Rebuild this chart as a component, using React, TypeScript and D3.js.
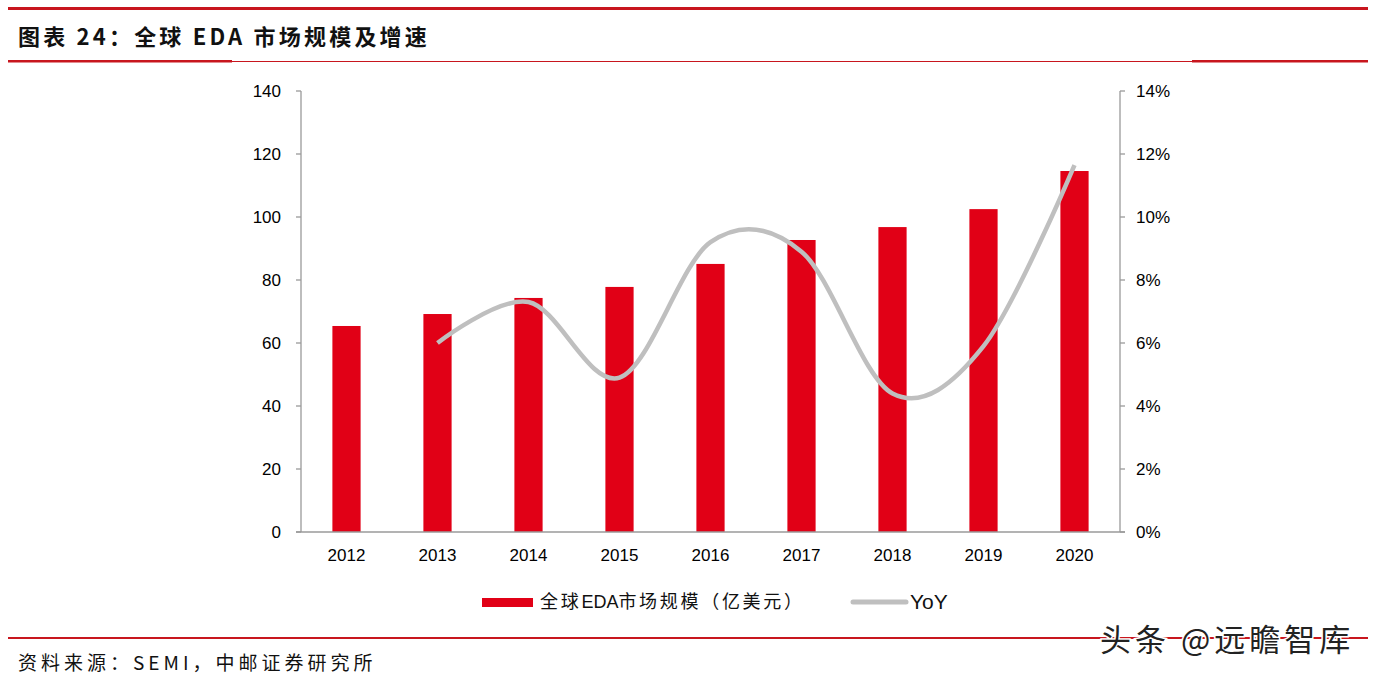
import React from "react";
import * as d3 from "d3";

const years = ["2012", "2013", "2014", "2015", "2016", "2017", "2018", "2019", "2020"];
const marketSize = [65.4, 69.2, 74.3, 77.8, 85.1, 92.7, 96.8, 102.5, 114.6];
const yoyYears = ["2013", "2014", "2015", "2016", "2017", "2018", "2019", "2020"];
const yoyValues = [0.060, 0.073, 0.049, 0.092, 0.089, 0.044, 0.059, 0.1165];
const leftTicks = [0, 20, 40, 60, 80, 100, 120, 140];
const rightTicks = [0, 0.02, 0.04, 0.06, 0.08, 0.1, 0.12, 0.14];

const W = 1373, H = 678;
const left = 301, right = 1120, top = 91, bottom = 532;
const RED = "#e10016";
const AXIS = "#9a9a9a";
const FONT = "'Liberation Sans', Arial, sans-serif";
const CJK = "'Noto Sans CJK SC', sans-serif";

export default function App() {
  const x = d3.scaleBand<string>().domain(years).range([left, right]).paddingInner(0.69).paddingOuter(0.345);
  const yL = d3.scaleLinear().domain([0, 140]).range([bottom, top]);
  const yR = d3.scaleLinear().domain([0, 0.14]).range([bottom, top]);
  const cx = (yr: string) => (x(yr) as number) + x.bandwidth() / 2;
  const line = d3
    .line<number>()
    .x((_, i) => cx(yoyYears[i]))
    .y((d) => yR(d))
    .curve(d3.curveCardinal.tension(0));

  return (
    <svg width={W} height={H} style={{ position: "absolute", left: 0, top: 0, background: "#fff" }}>
      {/* header lines */}
      <rect x={8} y={7} width={1360} height={3} fill="#c8161e" />
      <rect x={8} y={61} width={1360} height={1} fill="#c8161e" />
      <rect x={8} y={60} width={224} height={2.5} fill="#c8161e" />
      <rect x={1192} y={60} width={176} height={2.5} fill="#c8161e" />
      <text x={18} y={45} fontFamily={CJK} fontWeight={700} fontSize={22} letterSpacing={3.2} fill="#111">
        图表 24：全球 EDA 市场规模及增速
      </text>

      {/* bars */}
      {years.map((yr, i) => (
        <rect key={yr} x={x(yr)} y={yL(marketSize[i])} width={x.bandwidth()} height={bottom - yL(marketSize[i])} fill={RED} />
      ))}

      {/* yoy line */}
      <path d={line(yoyValues) || ""} fill="none" stroke="#bfbfbf" strokeWidth={4.5} />

      {/* axes */}
      <line x1={left} x2={left} y1={top} y2={bottom} stroke={AXIS} strokeWidth={1.3} />
      <line x1={right} x2={right} y1={top} y2={bottom} stroke={AXIS} strokeWidth={1.3} />
      <line x1={left - 5} x2={right + 5} y1={bottom} y2={bottom} stroke={AXIS} strokeWidth={1.3} />
      {leftTicks.map((t) => (
        <g key={"l" + t}>
          <line x1={left - 5} x2={left} y1={yL(t)} y2={yL(t)} stroke={AXIS} strokeWidth={1.3} />
          <text x={left - 20} y={yL(t)} dy="0.35em" textAnchor="end" fontFamily={FONT} fontSize={17} fill="#000">
            {t}
          </text>
        </g>
      ))}
      {rightTicks.map((t) => (
        <g key={"r" + t}>
          <line x1={right} x2={right + 5} y1={yR(t)} y2={yR(t)} stroke={AXIS} strokeWidth={1.3} />
          <text x={right + 16} y={yR(t)} dy="0.35em" textAnchor="start" fontFamily={FONT} fontSize={17} fill="#000">
            {Math.round(t * 100) + "%"}
          </text>
        </g>
      ))}
      {years.map((yr) => (
        <text key={"x" + yr} x={cx(yr)} y={555} dy="0.35em" textAnchor="middle" fontFamily={FONT} fontSize={17} fill="#000">
          {yr}
        </text>
      ))}

      {/* legend */}
      <rect x={482} y={598} width={51} height={9} fill={RED} />
      <text x={540} y={602} dy="0.35em" fontFamily={CJK} fontSize={18} letterSpacing={2.7} fill="#111">
        全球<tspan fontFamily={FONT} letterSpacing={0}>EDA</tspan>市场规模（亿美元）
      </text>
      <line x1={853} x2={906} y1={602} y2={602} stroke="#bfbfbf" strokeWidth={5} strokeLinecap="round" />
      <text x={910} y={602} dy="0.35em" fontFamily={FONT} fontSize={21} fill="#111">
        YoY
      </text>

      {/* footer */}
      <rect x={8} y={637} width={1360} height={2} fill="#c8161e" />
      <text x={18} y={670} fontFamily={CJK} fontSize={19} letterSpacing={4} fill="#111">
        资料来源：SEMI，中邮证券研究所
      </text>
      <text
        x={1100}
        y={651}
        fontFamily={CJK}
        fontSize={31}
        letterSpacing={4}
        fill="#222"
        stroke="#fff"
        strokeWidth={3}
        paintOrder="stroke"
      >
        头条 @远瞻智库
      </text>
    </svg>
  );
}
